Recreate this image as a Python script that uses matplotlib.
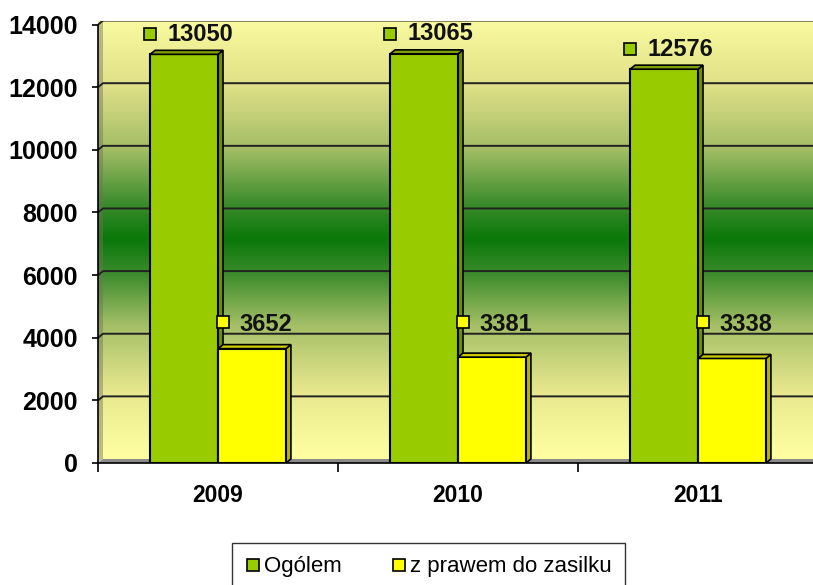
import numpy as np
import matplotlib
matplotlib.use("Agg")
import matplotlib.pyplot as plt
from matplotlib.colors import LinearSegmentedColormap
from matplotlib.lines import Line2D
from matplotlib.patches import Polygon

plt.rcParams['font.family'] = ['Liberation Sans', 'DejaVu Sans']

years = ['2009', '2010', '2011']
ogolem = [13050, 13065, 12576]
z_prawem = [3652, 3381, 3338]
series_names = ['Ogólem', 'z prawem do zasilku']

green = '#99CC00'
green_side = '#6E8F00'
green_top = '#809F00'
yellow = '#FFFF00'
yellow_side = '#B5B500'
yellow_top = '#C9C900'

fig = plt.figure(figsize=(8.13, 5.85), dpi=100)
ax = fig.add_axes([98/813, 122/585, 720/813, 442.5/585])
ax.set_xlim(-0.5, 2.5)
ax.set_ylim(0, 14130)

# depth of the fake 3d look, in data units (about 5 px right, 4 px up)
dx = 5 / 240
dy = 4 / (442.5 / 14130)

# back wall gradient
cmap = LinearSegmentedColormap.from_list('wall', [
    (0.0, '#FFFFA2'), (0.15, '#E8E88E'), (0.30, '#A6C068'),
    (0.42, '#3C8C2C'), (0.5, '#0A780A'), (0.58, '#3C8C2C'),
    (0.70, '#A0BC64'), (0.85, '#E0E088'), (1.0, '#FAFAA0')])
grad = np.linspace(0, 1, 256).reshape(-1, 1)
ax.imshow(grad, cmap=cmap, origin='lower', aspect='auto',
          extent=[-0.5, 2.7, dy, 14000 + dy + 60], zorder=0)

# side wall and floor
ax.add_patch(Polygon([(-0.5, 0), (-0.5 + dx, dy), (-0.5 + dx, 14000 + dy + 60), (-0.5, 14000)],
                     closed=True, facecolor='#707060', alpha=0.45, edgecolor='none', zorder=1))
ax.add_patch(Polygon([(-0.5, 0), (-0.5 + dx, dy), (2.7, dy), (2.7, 0)],
                     closed=True, facecolor='#8A8A8A', edgecolor='none', zorder=1))

# gridlines on the back wall
for v in range(2000, 14001, 2000):
    ax.plot([-0.5, -0.5 + dx, 2.7], [v, v + dy, v + dy], color='#222222', lw=1.4, zorder=2)

bw = 0.283


def bar3d(x0, h, front, side, top):
    x1 = x0 + bw
    ax.add_patch(Polygon([(x1, 0), (x1, h), (x1 + dx, h + dy), (x1 + dx, dy)],
                         closed=True, facecolor=side, edgecolor='black', lw=1.2, zorder=3))
    ax.bar(x0, h, width=bw, align='edge', color=front, edgecolor='black', lw=1.5, zorder=3)
    ax.add_patch(Polygon([(x0, h), (x0 + dx, h + dy), (x1 + dx, h + dy), (x1, h)],
                         closed=True, facecolor=top, edgecolor='black', lw=1.2, zorder=3))


x = np.arange(len(years))
for i in x:
    bar3d(i - bw, ogolem[i], green, green_side, green_top)
    bar3d(i, z_prawem[i], yellow, yellow_side, yellow_top)

# data labels
for i in x:
    ax.plot(i - bw, ogolem[i] + 640, marker='s', ms=8, mfc=green, mec='black', mew=1.2,
            zorder=6, clip_on=False)
    ax.annotate(str(ogolem[i]), (i - bw, ogolem[i] + 640), xytext=(17, 0),
                textcoords='offset pixels', va='center', ha='left',
                fontsize=17, fontweight='bold', color='#111111', zorder=6)
    ylab = max(z_prawem) + 850
    ax.plot(i + 0.02, ylab, marker='s', ms=8, mfc=yellow, mec='black', mew=1.2, zorder=6)
    ax.annotate(str(z_prawem[i]), (i + 0.02, ylab), xytext=(17, -2),
                textcoords='offset pixels', va='center', ha='left',
                fontsize=17, fontweight='bold', color='#111111', zorder=6)

# axes
for s in ['top', 'right']:
    ax.spines[s].set_visible(False)
ax.spines['left'].set_bounds(0, 14000)
ax.spines['left'].set_linewidth(1.2)
ax.spines['bottom'].set_linewidth(1.2)
ax.spines['left'].set_zorder(4)
ax.spines['bottom'].set_zorder(4)

ax.set_yticks(range(0, 14001, 2000))
ax.set_yticklabels([str(v) for v in range(0, 14001, 2000)], fontsize=18, fontweight='bold')
ax.tick_params(axis='y', length=4.5, width=1.2, pad=10)

ax.set_xticks(x)
ax.set_xticklabels(years, fontsize=16.5, fontweight='bold')
ax.set_xticks([-0.5, 0.5, 1.5, 2.5], minor=True)
ax.tick_params(axis='x', which='major', length=0, pad=15)
ax.tick_params(axis='x', which='minor', length=6.5, width=1.2)

# legend
handles = [Line2D([], [], ls='none', marker='s', ms=8, mfc=green, mec='black', mew=1.2),
           Line2D([], [], ls='none', marker='s', ms=8, mfc=yellow, mec='black', mew=1.2)]
leg = fig.legend(handles, series_names, loc='upper center', bbox_to_anchor=(0.527, 0.0718),
                 borderaxespad=0, ncol=2, fontsize=16, frameon=True, fancybox=False,
                 edgecolor='black', handlelength=0.7, handletextpad=0.15, columnspacing=2.2,
                 borderpad=0.6)
leg.get_frame().set_linewidth(1.0)

plt.savefig('out.png', dpi=100, facecolor='white')
